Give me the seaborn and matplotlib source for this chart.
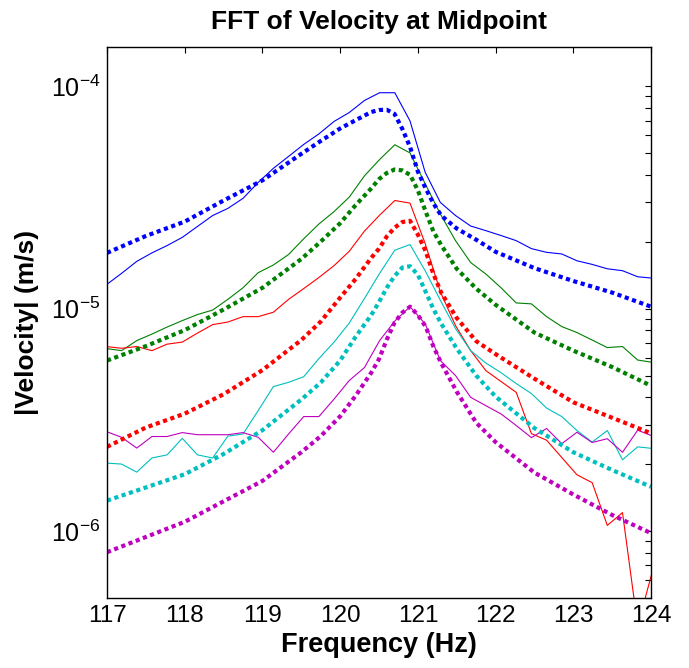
import numpy as np
import pandas as pd
import matplotlib
matplotlib.use("Agg")
import matplotlib.pyplot as plt
from matplotlib.ticker import NullLocator, NullFormatter, LogLocator
import seaborn as sns

# ---------------- data ----------------
freq = [116.9922, 117.1875, 117.3828, 117.5781, 117.7734, 117.9688, 118.1641,
        118.3594, 118.5547, 118.7500, 118.9453, 119.1406, 119.3359, 119.5313,
        119.7266, 119.9219, 120.1172, 120.3125, 120.5078, 120.7031, 120.8984,
        121.0938, 121.2891, 121.4844, 121.6797, 121.8750, 122.0703, 122.2656,
        122.4609, 122.6563, 122.8516, 123.0469, 123.2422, 123.4375, 123.6328,
        123.8281, 124.0234]

model_freq = [117.0, 117.5, 118.0, 118.5, 119.0, 119.5, 119.75, 120.0, 120.2,
              120.4, 120.5, 120.6, 120.7, 120.8, 120.9, 121.0, 121.1, 121.2,
              121.3, 121.5, 121.75, 122.0, 122.5, 123.0, 123.5, 124.0]

blue_meas = [1.28e-5, 1.44e-5, 1.63e-5, 1.78e-5, 1.92e-5, 2.09e-5, 2.34e-5, 2.62e-5,
             2.82e-5, 3.13e-5, 3.69e-5, 4.27e-5, 4.83e-5, 5.47e-5, 6.10e-5, 6.94e-5,
             7.61e-5, 8.62e-5, 9.34e-5, 9.34e-5, 6.98e-5, 4.10e-5, 3.00e-5, 2.62e-5,
             2.35e-5, 2.24e-5, 2.13e-5, 2.02e-5, 1.86e-5, 1.79e-5, 1.76e-5, 1.64e-5,
             1.58e-5, 1.51e-5, 1.48e-5, 1.39e-5, 1.37e-5]
green_meas = [6.61e-6, 6.47e-6, 7.18e-6, 7.68e-6, 8.26e-6, 8.83e-6, 9.40e-6, 9.85e-6,
              1.10e-5, 1.24e-5, 1.45e-5, 1.57e-5, 1.75e-5, 2.06e-5, 2.40e-5, 2.73e-5,
              3.17e-5, 3.95e-5, 4.68e-5, 5.45e-5, 5.01e-5, 3.64e-5, 2.66e-5, 2.02e-5,
              1.61e-5, 1.43e-5, 1.24e-5, 1.06e-5, 1.05e-5, 9.20e-6, 8.30e-6, 7.80e-6,
              7.22e-6, 6.68e-6, 6.75e-6, 5.87e-6, 5.73e-6]
red_meas = [6.75e-6, 6.63e-6, 6.75e-6, 6.47e-6, 6.92e-6, 7.07e-6, 7.76e-6, 8.47e-6,
            8.70e-6, 9.20e-6, 9.20e-6, 9.63e-6, 1.10e-5, 1.23e-5, 1.38e-5, 1.56e-5,
            1.81e-5, 2.23e-5, 2.63e-5, 3.06e-5, 2.98e-5, 1.96e-5, 1.19e-5, 8.38e-6,
            6.47e-6, 5.26e-6, 4.70e-6, 4.20e-6, 2.74e-6, 2.56e-6, 2.14e-6, 1.79e-6,
            1.65e-6, 1.06e-6, 1.21e-6, 3.75e-7, 6.70e-7]
cyan_meas = [2.02e-6, 2.00e-6, 1.84e-6, 2.13e-6, 2.20e-6, 2.61e-6, 2.20e-6, 2.13e-6,
             2.67e-6, 2.73e-6, 3.48e-6, 4.46e-6, 4.66e-6, 4.94e-6, 5.96e-6, 7.07e-6,
             8.61e-6, 1.11e-5, 1.44e-5, 1.83e-5, 1.94e-5, 1.48e-5, 1.09e-5, 8.13e-6,
             6.47e-6, 5.69e-6, 5.15e-6, 4.60e-6, 4.15e-6, 3.57e-6, 3.27e-6, 2.83e-6,
             2.51e-6, 2.83e-6, 2.09e-6, 2.39e-6, 2.35e-6]
magenta_meas = [2.80e-6, 2.64e-6, 2.36e-6, 2.66e-6, 2.66e-6, 2.77e-6, 2.71e-6, 2.71e-6,
                2.71e-6, 2.77e-6, 2.64e-6, 2.26e-6, 2.73e-6, 3.27e-6, 3.27e-6, 3.92e-6,
                4.75e-6, 5.43e-6, 7.18e-6, 8.79e-6, 1.02e-5, 8.54e-6, 5.84e-6, 5.00e-6,
                3.99e-6, 3.66e-6, 3.36e-6, 2.98e-6, 2.63e-6, 2.89e-6, 2.47e-6, 2.78e-6,
                2.50e-6, 2.60e-6, 2.26e-6, 2.84e-6, 2.67e-6]

blue_model = [1.78e-5, 2.12e-5, 2.46e-5, 3.06e-5, 3.77e-5, 4.96e-5, 5.67e-5, 6.45e-5,
              7.03e-5, 7.65e-5, 7.81e-5, 7.83e-5, 7.50e-5, 6.42e-5, 5.32e-5, 4.13e-5,
              3.47e-5, 2.97e-5, 2.62e-5, 2.29e-5, 2.04e-5, 1.80e-5, 1.52e-5, 1.33e-5,
              1.18e-5, 1.02e-5]
green_model = [5.84e-6, 6.78e-6, 8.00e-6, 9.90e-6, 1.24e-5, 1.67e-5, 2.00e-5, 2.42e-5,
               2.92e-5, 3.47e-5, 3.82e-5, 4.07e-5, 4.22e-5, 4.18e-5, 3.99e-5, 3.40e-5,
               2.73e-5, 2.22e-5, 1.93e-5, 1.51e-5, 1.23e-5, 1.04e-5, 7.80e-6, 6.47e-6,
               5.46e-6, 4.50e-6]
red_model = [2.39e-6, 2.92e-6, 3.37e-6, 4.12e-6, 5.29e-6, 7.22e-6, 8.74e-6, 1.12e-5,
             1.36e-5, 1.69e-5, 1.86e-5, 2.11e-5, 2.31e-5, 2.45e-5, 2.48e-5, 2.15e-5,
             1.81e-5, 1.43e-5, 1.18e-5, 9.07e-6, 7.14e-6, 6.24e-6, 4.84e-6, 3.79e-6,
             3.23e-6, 2.75e-6]
cyan_model = [1.37e-6, 1.57e-6, 1.80e-6, 2.22e-6, 2.84e-6, 3.90e-6, 4.65e-6, 5.84e-6,
              7.48e-6, 9.35e-6, 1.07e-5, 1.24e-5, 1.40e-5, 1.53e-5, 1.55e-5, 1.42e-5,
              1.19e-5, 9.95e-6, 8.56e-6, 6.61e-6, 5.00e-6, 4.02e-6, 2.90e-6, 2.26e-6,
              1.88e-6, 1.58e-6]
magenta_model = [8.03e-7, 9.40e-7, 1.10e-6, 1.36e-6, 1.68e-6, 2.26e-6, 2.67e-6, 3.28e-6,
                 4.06e-6, 5.15e-6, 5.93e-6, 7.26e-6, 8.65e-6, 9.59e-6, 1.02e-5, 9.35e-6,
                 8.30e-6, 6.75e-6, 5.69e-6, 4.23e-6, 3.07e-6, 2.51e-6, 1.83e-6, 1.46e-6,
                 1.18e-6, 9.78e-7]

series_names = ["blue", "green", "red", "cyan", "magenta"]
colors = {"blue": (0, 0, 1), "green": (0, 0.5, 0), "red": (1, 0, 0),
          "cyan": (0, 0.75, 0.75), "magenta": (0.75, 0, 0.75)}
meas = {"blue": blue_meas, "green": green_meas, "red": red_meas,
        "cyan": cyan_meas, "magenta": magenta_meas}
model = {"blue": blue_model, "green": green_model, "red": red_model,
         "cyan": cyan_model, "magenta": magenta_model}

title = "FFT of Velocity at Midpoint"
xlabel = "Frequency (Hz)"
ylabel = "|Velocity| (m/s)"
xticks = [117, 118, 119, 120, 121, 122, 123, 124]

# ---------------- style ----------------
sns.set_style("white")
plt.rcParams["font.family"] = ["Liberation Sans", "DejaVu Sans"]
plt.rcParams["mathtext.default"] = "regular"
for key in ["text.color", "axes.labelcolor", "xtick.color", "ytick.color",
            "xtick.labelcolor", "ytick.labelcolor"]:
    plt.rcParams[key] = "black"

fig = plt.figure(figsize=(6.89, 6.68), dpi=100)
ax = fig.add_axes([0.1553, 0.1048, 0.7896, 0.8249])

for name in series_names:
    dm = pd.DataFrame({"f": freq, "v": meas[name]})
    sns.lineplot(data=dm, x="f", y="v", ax=ax, color=colors[name], lw=0.8,
                 estimator=None, sort=False)
for name in series_names:
    dmod = pd.DataFrame({"f": model_freq, "v": model[name]})
    sns.lineplot(data=dmod, x="f", y="v", ax=ax, color=colors[name], lw=3.0,
                 linestyle=(0, (1, 0.85)), estimator=None, sort=False)

ax.set_yscale("log")
ax.set_xlim(117, 124)
ax.set_ylim(5e-7, 1.5e-4)
ax.set_xticks(xticks)
ax.set_xticklabels([str(t) for t in xticks])
ax.xaxis.set_minor_locator(NullLocator())
ax.yaxis.set_major_locator(LogLocator(base=10))
ax.yaxis.set_minor_locator(LogLocator(base=10, subs=np.arange(2, 10)))
ax.yaxis.set_minor_formatter(NullFormatter())

ax.tick_params(which="both", direction="in", top=True, right=True,
               length=4.5, width=0.8, color="black", labelcolor="black")
ax.tick_params(axis="x", which="major", labelsize=17.5, pad=5)
ax.tick_params(axis="y", which="major", labelsize=18, pad=5)
for sp in ax.spines.values():
    sp.set_visible(True)
    sp.set_color("black")
    sp.set_linewidth(1.0)

ax.set_title(title, fontsize=19, fontweight="bold", pad=13, color="black")
ax.set_xlabel(xlabel, fontsize=19.5, fontweight="bold", labelpad=4, color="black")
ax.set_ylabel(ylabel, fontsize=19, fontweight="bold", labelpad=8, color="black")

fig.savefig("out.png", dpi=100, facecolor="white")
